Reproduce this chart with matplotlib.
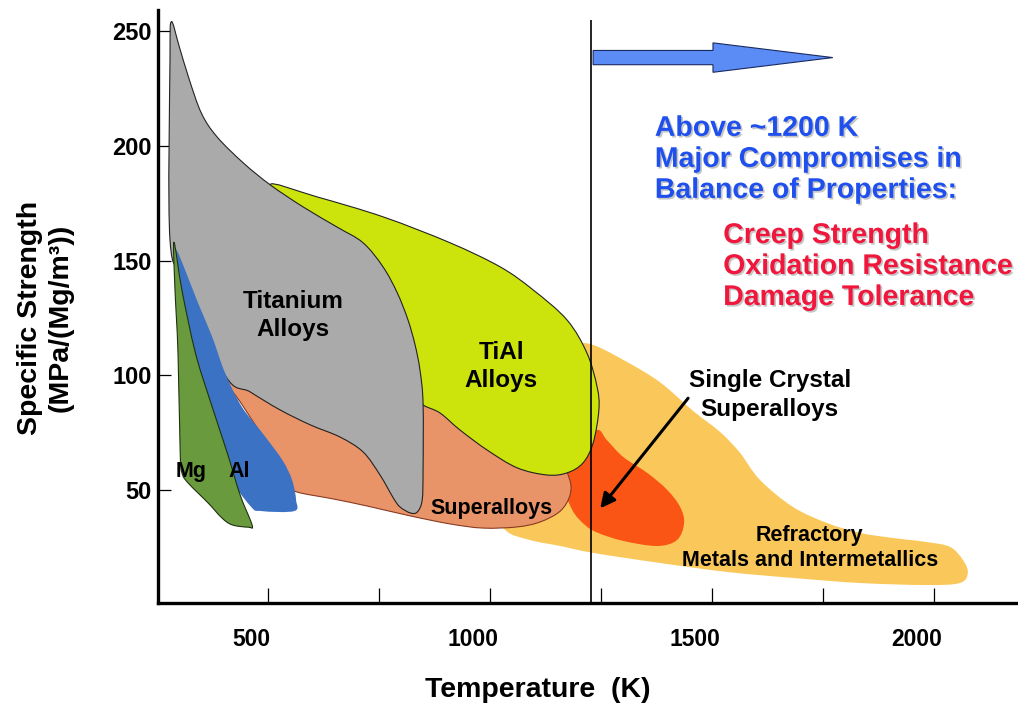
import numpy as np
import matplotlib
matplotlib.use("Agg")
from matplotlib import pyplot as plt
from matplotlib.path import Path
from matplotlib.patches import PathPatch, FancyArrow
from matplotlib import patheffects as pe
from matplotlib.transforms import ScaledTranslation

plt.rcParams["font.family"] = ["Liberation Sans", "DejaVu Sans"]
plt.rcParams["font.weight"] = "bold"

# outlines of each alloy field: temperature (K) and specific strength
refr_T = [1191, 1232, 1308, 1383, 1457, 1518, 1563, 1608, 1682, 1759, 1833, 1907, 1984, 2036,
          2065, 2076, 2058, 1984, 1833, 1682, 1534, 1383, 1232, 1158, 1090, 1034, 1000, 1112, 1180]
refr_S = [113.3, 113.3, 105.9, 97, 84.6, 75.4, 66.3, 54.5, 42.8, 35.8, 31.5, 29.3, 27.5, 25.4,
          19.7, 14.1, 9.7, 8.8, 9.7, 11.9, 14.5, 18.4, 22.8, 25.8, 28.4, 32.8, 45.8, 80.6, 106.8]

sx_T = [1198, 1241, 1263, 1300, 1354, 1399, 1428, 1437, 1421, 1376, 1300, 1243, 1214, 1185, 1162, 1180]
sx_S = [69.8, 76.3, 71.9, 64.5, 57.6, 50.2, 42.8, 35.8, 28.4, 25.8, 28.0, 31.5, 34.9, 41.5, 54.5, 65.4]

sup_T = [381, 426, 471, 516, 550, 565, 646, 723, 820, 910, 984, 1061, 1113, 1158, 1180, 1178,
         1146, 1023, 887, 797, 617, 482]
sup_S = [101.5, 91.5, 78.5, 65.4, 52.4, 49.3, 46.3, 43.2, 38.9, 35.4, 33.6, 34.1, 36.3, 41, 48, 55.4,
         65.4, 76.3, 91.5, 98, 104.6, 106.8]

tial_T = [505, 610, 759, 910, 1023, 1097, 1173, 1218, 1241, 1245, 1232, 1209, 1173, 1128, 1061, 993,
          932, 887, 849, 830, 800, 760, 620]
tial_S = [182.9, 177.7, 169, 157.7, 147.2, 137.2, 124.2, 109.8, 95, 85, 70.6, 61.9, 57.6, 56.7, 59.8,
          67.6, 76.3, 83.7, 87.2, 92, 115, 139, 165]

ti_T = [282, 300, 322, 350, 385, 444, 505, 579, 655, 714, 759, 791, 815, 831, 842, 849, 849, 847, 836,
        820, 797, 782, 752, 714, 662, 595, 527, 460, 403, 313, 279, 279]
ti_S = [253.9, 243, 229, 214, 203.8, 192.5, 182.9, 173.3, 164.6, 157.7, 147.2, 135.9, 124.2, 113.3,
        102.4, 88, 58.9, 45.8, 40.6, 40.2, 42.8, 46.7, 56.7, 66.7, 73.2, 78.5, 85, 92.8, 100.2, 141.6,
        159, 237.3]

al_T = [293, 313, 342, 374, 403, 441, 487, 532, 554, 563, 559, 485, 460, 403, 358, 315, 295]
al_S = [154.6, 145.9, 131.6, 116.8, 101.1, 86.3, 75, 63.2, 54.5, 45.8, 41, 41, 43.2, 58.9, 80.6, 111.1, 146]

mg_T = [288, 306, 336, 369, 408, 437, 464, 455, 419, 396, 365, 320, 306, 302, 297, 290]
mg_S = [158, 137, 110, 89.3, 66.3, 48, 34.9, 34, 35, 38, 44.5, 53.2, 57.6, 66.3, 110, 138.5]

x_ticks = [500, 750, 1000, 1250, 1500, 1750, 2000]
x_ticklabels = ["500", "", "1000", "", "1500", "", "2000"]
y_ticks = [50, 100, 150, 200, 250]
limit_T = 1227


def outline(T, S):
    # closed smooth curve through the read points
    p = np.column_stack([T, S]).astype(float)
    n = len(p)
    verts = [p[0]]
    codes = [Path.MOVETO]
    for i in range(n):
        p0, p1, p2, p3 = p[i - 1], p[i], p[(i + 1) % n], p[(i + 2) % n]
        verts += [p1 + (p2 - p0) / 6, p2 - (p3 - p1) / 6, p2]
        codes += [Path.CURVE4] * 3
    verts.append(p[0])
    codes.append(Path.CLOSEPOLY)
    return Path(verts, codes)


fig = plt.figure(figsize=(10.18, 7.10), dpi=100)
ax = fig.add_axes([158 / 1018, 1 - 603 / 710, 860 / 1018, 593 / 710])
ax.set_xlim(252, 2189)
ax.set_ylim(1, 259)

fields = [
    (refr_T, refr_S, "#fac85a", "none", 1),
    (sx_T, sx_S, "#fa5514", "none", 2),
    (sup_T, sup_S, "#e99468", "#8a3a20", 3),
    (tial_T, tial_S, "#cde40c", "#222222", 4),
    (ti_T, ti_S, "#aaaaaa", "#222222", 5),
    (al_T, al_S, "#3c72c4", "none", 6),
    (mg_T, mg_S, "#6a9a3e", "#1f3210", 7),
]
for T, S, fc, ec, z in fields:
    ax.add_patch(PathPatch(outline(T, S), facecolor=fc, edgecolor=ec, lw=0.8, zorder=z))

ax.vlines(limit_T, 1, 254.7, colors="black", lw=1.2, zorder=8)
ax.add_patch(FancyArrow(1232, 238.3, 540, 0, width=6.2, head_width=12.8, head_length=270,
                        length_includes_head=True, fc="#5b8cf5", ec="#1a2a60", lw=0.8, zorder=9))

ax.text(556, 126, "Titanium\nAlloys", ha="center", va="center", fontsize=17.5, linespacing=1.3, zorder=10)
ax.text(1025, 104, "TiAl\nAlloys", ha="center", va="center", fontsize=17.5, linespacing=1.3, zorder=10)
ax.text(327, 58.4, "Mg", ha="center", va="center", fontsize=15.5, zorder=10)
ax.text(435, 58.4, "Al", ha="center", va="center", fontsize=15.5, zorder=10)
ax.text(1004, 41.9, "Superalloys", ha="center", va="center", fontsize=15.5, zorder=10)
ax.text(1630, 91.5, "Single Crystal\nSuperalloys", ha="center", va="center", fontsize=17.5,
        linespacing=1.3, zorder=10)
ax.text(1720, 24.9, "Refractory\nMetals and Intermetallics", ha="center", va="center", fontsize=15.5,
        linespacing=1.25, zorder=10)
ax.annotate("", xy=(1248, 42.2), xytext=(1446, 90.1),
            arrowprops=dict(arrowstyle="-|>", lw=2.2, color="black", mutation_scale=22,
                            shrinkA=0, shrinkB=0), zorder=10)

shadow = [pe.withSimplePatchShadow(offset=(1.2, -1.2), shadow_rgbFace=(0.55, 0.55, 0.55), alpha=0.5)]
ax.text(1371, 193.8, "Above ~1200 K\nMajor Compromises in\nBalance of Properties:", color="#1f50ee",
        fontsize=20.5, ha="left", va="center", linespacing=1.25, path_effects=shadow, zorder=10)
ax.text(1525, 147.2, "Creep Strength\nOxidation Resistance\nDamage Tolerance", color="#f0163c",
        fontsize=20.5, ha="left", va="center", linespacing=1.25, path_effects=shadow, zorder=10)

for s in ["top", "right"]:
    ax.spines[s].set_visible(False)
for s in ["left", "bottom"]:
    ax.spines[s].set_linewidth(2.4)

ax.set_xticks(x_ticks)
ax.set_xticklabels(x_ticklabels)
ax.set_yticks(y_ticks)
ax.tick_params(axis="x", direction="in", length=11, width=0.9, pad=18, labelsize=16.5)
ax.tick_params(axis="y", direction="in", length=9, width=0.9, pad=4.5, labelsize=17)
shift = ScaledTranslation(-0.17, 0, fig.dpi_scale_trans)
for lab in ax.get_xticklabels():
    lab.set_transform(lab.get_transform() + shift)

ax.set_xlabel("Temperature  (K)", fontsize=20.5, fontweight="bold", va="center")
ax.xaxis.set_label_coords(0.441, -0.1467)
ax.set_ylabel("Specific Strength\n(MPa/(Mg/m³))", fontsize=20.5, fontweight="bold", va="center",
              linespacing=1.25)
ax.yaxis.set_label_coords(-0.131, 0.48)

fig.savefig("out.png", dpi=100)
